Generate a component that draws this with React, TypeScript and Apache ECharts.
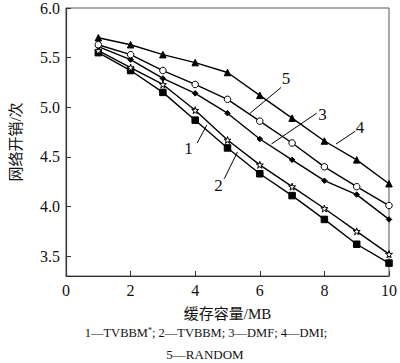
import React, { useEffect, useRef } from "react";
import * as echarts from "echarts";

const cacheSizes = [1, 2, 3, 4, 5, 6, 7, 8, 9, 10];
const tvbbmStar = [5.55, 5.37, 5.15, 4.87, 4.59, 4.33, 4.11, 3.87, 3.62, 3.43];
const tvbbm = [5.57, 5.40, 5.23, 4.97, 4.67, 4.42, 4.20, 3.98, 3.75, 3.52];
const dmf = [5.61, 5.48, 5.29, 5.14, 4.94, 4.68, 4.47, 4.26, 4.12, 3.87];
const dmi = [5.70, 5.63, 5.53, 5.45, 5.35, 5.12, 4.89, 4.66, 4.47, 4.23];
const random = [5.63, 5.53, 5.37, 5.23, 5.08, 4.86, 4.64, 4.40, 4.20, 4.01];
const yTicks = [3.5, 4.0, 4.5, 5.0, 5.5, 6.0];

// annotation labels: [label, leaderStart, leaderEnd, textPos] in data coords
const annotations: [string, number[], number[], number[]][] = [
  ["1", [4.06, 4.64], [4.36, 4.82], [3.79, 4.58]],
  ["2", [4.9, 4.28], [5.31, 4.55], [4.72, 4.21]],
  ["3", [6.36, 4.63], [7.76, 4.94], [7.94, 4.93]],
  ["4", [8.36, 4.63], [8.96, 4.76], [9.1, 4.8]],
  ["5", [5.7, 4.94], [6.66, 5.2], [6.81, 5.29]],
];

const SERIF = "Liberation Serif";
const CJK = "Liberation Serif, Noto Sans CJK SC";
const STAR =
  "path://M50,0 L61,35 L98,35 L68,57 L79,91 L50,70 L21,91 L32,57 L2,35 L39,35 Z";

export default function App() {
  const ref = useRef<HTMLDivElement>(null);
  useEffect(() => {
    const chart = echarts.init(ref.current!, null, { renderer: "svg" });
    const mk = (name: string, data: number[], symbol: string, size: number, fill: string) => ({
      name,
      type: "line",
      data: cacheSizes.map((x, i) => [x, data[i]]),
      symbol,
      symbolSize: size,
      showSymbol: true,
      lineStyle: { color: "#000", width: 1.4 },
      itemStyle: { color: fill, borderColor: "#000", borderWidth: 1 },
      z: 3,
    });
    chart.setOption({
      animation: false,
      textStyle: { fontFamily: SERIF },
      grid: {
        left: 57,
        right: 8,
        top: 6.7,
        bottom: 87,
        show: true,
        borderColor: "#555",
        borderWidth: 1,
      },
      xAxis: {
        type: "value",
        min: 0,
        max: 10,
        interval: 2,
        name: "缓存容量/MB",
        nameLocation: "middle",
        nameGap: 30,
        nameTextStyle: { fontFamily: CJK, fontSize: 15, color: "#111" },
        axisLine: { lineStyle: { color: "#333", width: 1.2 } },
        axisTick: { inside: true, length: 5, lineStyle: { color: "#333" } },
        axisLabel: { fontFamily: SERIF, fontSize: 16, color: "#111", margin: 6 },
        splitLine: { show: false },
      },
      yAxis: {
        type: "value",
        min: 3.3,
        max: 6.0,
        name: "网络开销/次",
        nameLocation: "middle",
        nameRotate: 90,
        nameGap: 43,
        nameTextStyle: { fontFamily: CJK, fontSize: 15, color: "#111" },
        axisLine: { show: true, lineStyle: { color: "#333", width: 1.2 } },
        axisTick: {
          show: true,
          inside: true,
          length: 5,
          customValues: yTicks,
          lineStyle: { color: "#333" },
        },
        axisLabel: {
          fontFamily: SERIF,
          fontSize: 16,
          color: "#111",
          margin: 6,
          customValues: yTicks,
          formatter: (v: number) => v.toFixed(1),
        },
        splitLine: { show: false },
      },
      series: [
        mk("TVBBM*", tvbbmStar, "rect", 6.5, "#000"),
        mk("TVBBM", tvbbm, STAR, 7, "#fff"),
        mk("DMF", dmf, "diamond", 5.5, "#000"),
        mk("DMI", dmi, "triangle", 6.5, "#000"),
        mk("RANDOM", random, "circle", 6.5, "#fff"),
      ],
    });

    const elements: any[] = [];
    annotations.forEach(([label, a, b, t]) => {
      const pa = chart.convertToPixel({ gridIndex: 0 }, a) as number[];
      const pb = chart.convertToPixel({ gridIndex: 0 }, b) as number[];
      const pt = chart.convertToPixel({ gridIndex: 0 }, t) as number[];
      elements.push({
        type: "line",
        shape: { x1: pa[0], y1: pa[1], x2: pb[0], y2: pb[1] },
        style: { stroke: "#000", lineWidth: 1 },
        z: 10,
      });
      elements.push({
        type: "text",
        x: pt[0],
        y: pt[1],
        style: {
          text: label,
          fontFamily: SERIF,
          fontSize: 17,
          fill: "#111",
          align: "center",
          verticalAlign: "middle",
        },
        z: 10,
      });
    });
    elements.push({
      type: "text",
      x: 206,
      y: 333,
      style: {
        text: "1—TVBBM{s|*}; 2—TVBBM; 3—DMF; 4—DMI;",
        fontFamily: SERIF,
        fontSize: 12.5,
        fill: "#111",
        align: "center",
        verticalAlign: "middle",
        rich: {
          s: { fontFamily: SERIF, fontSize: 8, verticalAlign: "top", padding: [0, 0, 6, 0], fill: "#111" },
        },
      },
    });
    elements.push({
      type: "text",
      x: 205,
      y: 354,
      style: {
        text: "5—RANDOM",
        fontFamily: SERIF,
        fontSize: 13,
        fill: "#111",
        align: "center",
        verticalAlign: "middle",
      },
    });
    chart.setOption({ graphic: { elements } });
    return () => chart.dispose();
  }, []);
  return (
    <div
      ref={ref}
      style={{ position: "fixed", left: 0, top: 0, width: 400, height: 363, background: "#fff" }}
    />
  );
}
